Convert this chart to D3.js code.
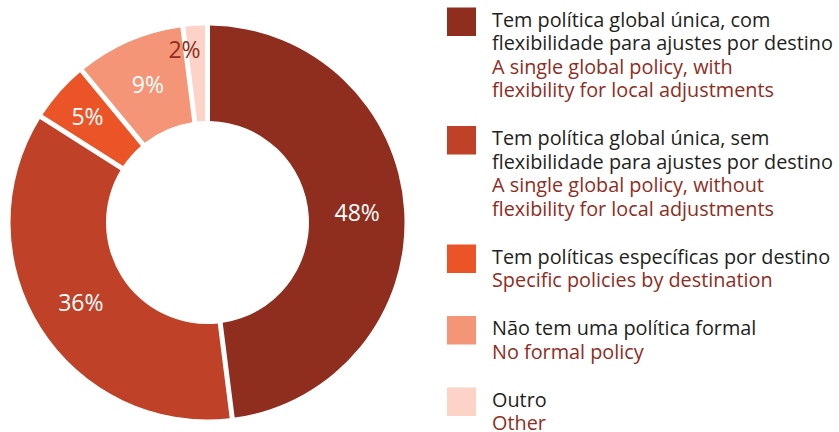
<!DOCTYPE html>
<html><head><meta charset="utf-8">
<script src="https://cdn.jsdelivr.net/npm/d3@7"></script>
<style>html,body{margin:0;padding:0;background:#fff;}svg{display:block;}</style>
</head><body>
<svg id="c" width="839" height="432"></svg>
<script>
const categoriesPt = [
  ["Tem política global única, com", "flexibilidade para ajustes por destino"],
  ["Tem política global única, sem", "flexibilidade para ajustes por destino"],
  ["Tem políticas específicas por destino"],
  ["Não tem uma política formal"],
  ["Outro"]
];
const categoriesEn = [
  ["A single global policy, with", "flexibility for local adjustments"],
  ["A single global policy, without", "flexibility for local adjustments"],
  ["Specific policies by destination"],
  ["No formal policy"],
  ["Other"]
];
const values = [48, 36, 5, 9, 2];
const colors = ["#8F2D1E", "#BE4128", "#EB5426", "#F39576", "#FCD3C6"];
const labelColors = ["#fff", "#fff", "#fff", "#fff", "#8F2D1E"];

const svg = d3.select("#c");
const cx = 207.5, cy = 222.5, rOut = 197, rIn = 101.5;
const FONT = "'Open Sans', 'Noto Sans', sans-serif";

const pie = d3.pie().sort(null).value(d => d)(values);
const arc = d3.arc().innerRadius(rIn).outerRadius(rOut).padAngle(5 / 200).padRadius(200);

const g = svg.append("g").attr("transform", `translate(${cx},${cy})`);
g.selectAll("path").data(pie).join("path")
  .attr("d", arc).attr("fill", (d, i) => colors[i]);

function labelPos(d, i) {
  let a = (d.startAngle + d.endAngle) / 2, r = 150;
  if (d.data < 3) { r = 174; a = a - 0.07; }
  else if (d.data < 6) { r = 160; }
  return [Math.sin(a) * r, -Math.cos(a) * r];
}
g.selectAll("text.lbl").data(pie).join("text").attr("class", "lbl")
  .attr("transform", (d, i) => `translate(${labelPos(d, i)})`)
  .attr("text-anchor", "middle").attr("dy", "0.36em")
  .attr("font-family", FONT).attr("font-size", 23)
  .attr("fill", (d, i) => labelColors[i])
  .text(d => d.data + "%");

// Legend
const lx = 447, tx = 492, lh = 23.5, gap = 24.5;
const leg = svg.append("g");
let y = 26.5;
const texts = [];
categoriesPt.forEach((pt, i) => {
  leg.append("rect").attr("x", lx).attr("y", y - 19).attr("width", 29).attr("height", 28.5).attr("fill", colors[i]);
  const lines = pt.map(t => ({t, c: "#231F20"})).concat(categoriesEn[i].map(t => ({t, c: "#8F2D1E"})));
  lines.forEach((l, j) => {
    texts.push(leg.append("text").attr("x", tx).attr("y", y + j * lh)
      .attr("font-family", FONT).attr("font-size", 19)
      .attr("fill", l.c).text(l.t));
  });
  y += lines.length * lh + gap;
});
let maxW = 0;
texts.forEach(t => { maxW = Math.max(maxW, t.node().getComputedTextLength()); });
const fs = Math.min(20.5, 19 * 341 / maxW);
texts.forEach(t => t.attr("font-size", fs));
</script>
</body></html>
